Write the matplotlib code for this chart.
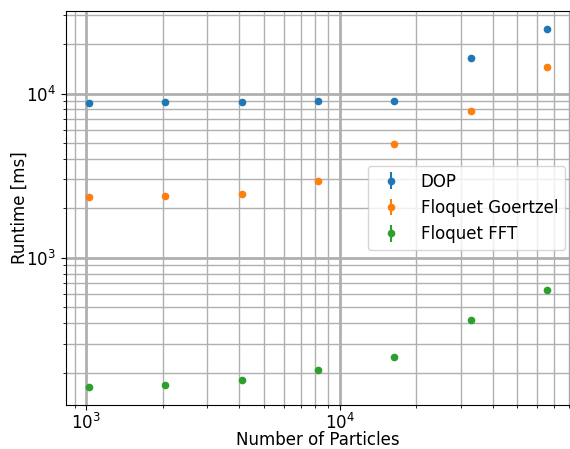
import numpy as np
import matplotlib.pyplot as plt

# particle counts
n_particles = [1024, 2048, 4096, 8192, 16384, 32768, 65536]

# runtimes in ms
dop = [8730, 8850, 8890, 9010, 9060, 16580, 24770]
goertzel = [2333, 2366, 2442, 2950, 4908, 7832, 14520]
fft = [163, 168, 180, 206, 249, 417, 632]

series_names = ['DOP', 'Floquet Goertzel', 'Floquet FFT']

plt.rcParams['font.size'] = 12

fig = plt.figure(figsize=(5.7, 4.49), dpi=100)
ax = fig.add_axes([66 / 570, 1 - 405 / 449, 504 / 570, 394 / 449])

for vals, name in zip([dop, goertzel, fft], series_names):
    ax.errorbar(n_particles, vals, yerr=np.zeros(len(vals)), fmt='o', ms=4.5, label=name)

ax.set_xscale('log')
ax.set_yscale('log')
ax.grid(True, which='major', linewidth=2, color='#b0b0b0')
ax.grid(True, which='minor', linewidth=1, color='#b0b0b0')
ax.tick_params(axis='x', which='major', pad=2)
ax.set_xlabel('Number of Particles', labelpad=-1)
ax.set_ylabel('Runtime [ms]', labelpad=-2)
ax.legend(loc='center right', borderaxespad=0.3)

fig.savefig('out.png')
